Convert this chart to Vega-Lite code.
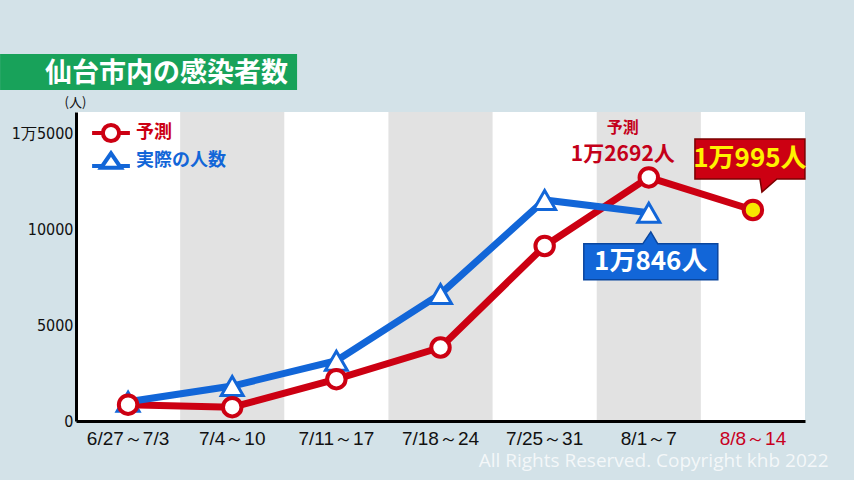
{
  "$schema": "https://vega.github.io/schema/vega-lite/v6.json",
  "width": 729,
  "height": 309,
  "autosize": {"type": "none"},
  "padding": {"left": 76, "top": 112, "right": 49, "bottom": 59},
  "background": "#d3e2e8",
  "title": {
    "text": "仙台市内の感染者数",
    "anchor": "start",
    "frame": "group",
    "dx": -31,
    "dy": 60,
    "offset": 26,
    "fontSize": 27,
    "fontWeight": "bold",
    "color": "white",
    "font": "Noto Sans CJK JP"
  },
  "config": {
    "view": {"stroke": null, "fill": "white"},
    "font": "DejaVu Sans Condensed"
  },
  "datasets": {
    "weeks": [
      {"week": "6/27～7/3"}, {"week": "7/4～10"}, {"week": "7/11～17"}, {"week": "7/18～24"},
      {"week": "7/25～31"}, {"week": "8/1～7"}, {"week": "8/8～14"}
    ],
    "cases": [
      {"week": "6/27～7/3", "series": "予測", "n": 850},
      {"week": "7/4～10", "series": "予測", "n": 720},
      {"week": "7/11～17", "series": "予測", "n": 2180},
      {"week": "7/18～24", "series": "予測", "n": 3830},
      {"week": "7/25～31", "series": "予測", "n": 9120},
      {"week": "8/1～7", "series": "予測", "n": 12692},
      {"week": "8/8～14", "series": "予測", "n": 10995},
      {"week": "6/27～7/3", "series": "実際の人数", "n": 1000},
      {"week": "7/4～10", "series": "実際の人数", "n": 1820},
      {"week": "7/11～17", "series": "実際の人数", "n": 3140},
      {"week": "7/18～24", "series": "実際の人数", "n": 6620},
      {"week": "7/25～31", "series": "実際の人数", "n": 11520},
      {"week": "8/1～7", "series": "実際の人数", "n": 10846}
    ]
  },
  "encoding": {
    "x": {
      "field": "week",
      "type": "nominal",
      "scale": {
        "domain": ["6/27～7/3", "7/4～10", "7/11～17", "7/18～24", "7/25～31", "8/1～7", "8/8～14"],
        "paddingInner": 0,
        "paddingOuter": 0
      },
      "axis": {
        "title": "All Rights Reserved. Copyright khb 2022",
        "titleFont": "Open Sans",
        "titleFontWeight": "normal",
        "titleFontSize": 19,
        "titleColor": "#ffffff",
        "titleOpacity": 0.75,
        "titleAlign": "right",
        "titleBaseline": "middle",
        "titleX": 752,
        "titleY": 39,
        "labelAngle": 0,
        "labelFont": "Liberation Sans",
        "labelFontSize": 19,
        "labelPadding": 8,
        "labelColor": {"condition": {"test": "datum.value === '8/8～14'", "value": "#c8001e"}, "value": "#111111"},
        "ticks": false,
        "domainColor": "#000000",
        "domainWidth": 3,
        "grid": false
      }
    }
  },
  "layer": [
    {
      "data": {"name": "weeks"},
      "transform": [{"filter": "indexof(['7/4～10','7/18～24','8/1～7'], datum.week) >= 0"}],
      "mark": {"type": "rect", "fill": "#e2e2e2"}
    },
    {
      "data": {"name": "cases"},
      "transform": [{"filter": "datum.week === '6/27～7/3' && datum.series === '予測'"}],
      "mark": {"type": "point", "shape": "M-1.28,-0.58H1.69V-0.22H-1.28Z", "size": 40000, "filled": true, "fill": "#18a25a", "opacity": 1, "strokeWidth": 0},
      "encoding": {
        "x": {"datum": "6/27～7/3", "type": "nominal"},
        "y": {"datum": 16100, "type": "quantitative"}
      }
    },
    {
      "data": {"name": "cases"},
      "transform": [{"window": [{"op": "row_number", "as": "idx"}], "groupby": ["series"]}],
      "mark": {"type": "line", "strokeWidth": 7},
      "encoding": {
        "y": {
          "field": "n",
          "type": "quantitative",
          "scale": {"domain": [0, 16100], "nice": false},
          "axis": {
            "title": "(人)",
            "titleAngle": 0,
            "titleX": -1,
            "titleY": -3,
            "titleAlign": "center",
            "titleBaseline": "bottom",
            "titleFontSize": 13,
            "titleFontWeight": "normal",
            "titleFont": "Noto Sans CJK JP",
            "titleColor": "#111111",
            "values": [0, 5000, 10000, 15000],
            "labelExpr": "datum.value == 15000 ? '1万5000' : datum.value",
            "labelFontSize": 16,
            "labelColor": "#111111",
            "labelPadding": 3,
            "ticks": false,
            "domainColor": "#000000",
            "domainWidth": 3,
            "gridColor": "#d6d6d6",
            "gridWidth": 1.2
          }
        },
        "color": {
          "field": "series",
          "type": "nominal",
          "scale": {"domain": ["予測", "実際の人数"], "range": ["#cc0012", "#1266d8"]},
          "legend": {
            "orient": "none",
            "legendX": 24,
            "legendY": 10,
            "title": null,
            "padding": 0,
            "symbolSize": 324,
            "symbolStrokeWidth": 4,
            "symbolFillColor": "white",
            "labelFontSize": 18,
            "labelFont": "Noto Sans CJK JP",
            "labelFontWeight": "bold",
            "labelOffset": 14,
            "rowPadding": -10,
            "encode": {
              "symbols": {"update": {
                "shape": {"signal": "datum.value === '予測' ? 'M-2.1,0H-0.9M0.9,0H2.1M-0.9,0A0.9,0.9,0,1,1,0.9,0A0.9,0.9,0,1,1,-0.9,0Z' : 'M-2.1,0.55H-1.1M1.1,0.55H2.1M-1.1,0.75L0,-0.85L1.1,0.75Z'"},
                "fill": {"value": "white"},
                "strokeWidth": {"value": 4}
              }},
              "labels": {"update": {"fill": {"signal": "datum.value === '予測' ? '#cc0012' : '#1266d8'"}}}
            }
          }
        },
        "order": {"field": "idx", "type": "quantitative"},
        "detail": {"field": "series"}
      }
    },
    {
      "data": {"name": "cases"},
      "transform": [{"filter": "datum.series === '実際の人数'"}],
      "mark": {"type": "point", "shape": "triangle-up", "size": 480, "filled": true, "fill": "white", "stroke": "#1266d8", "strokeWidth": 3, "opacity": 1},
      "encoding": {"y": {"field": "n", "type": "quantitative"}}
    },
    {
      "data": {"name": "cases"},
      "transform": [{"filter": "datum.series === '予測' && datum.week !== '8/8～14'"}],
      "mark": {"type": "point", "shape": "circle", "size": 340, "filled": true, "fill": "white", "stroke": "#cc0012", "strokeWidth": 4, "opacity": 1},
      "encoding": {"y": {"field": "n", "type": "quantitative"}}
    },
    {
      "data": {"name": "cases"},
      "transform": [{"filter": "datum.series === '予測' && datum.week === '8/8～14'"}],
      "mark": {"type": "point", "shape": "circle", "size": 340, "filled": true, "fill": "#f7e600", "stroke": "#cc0012", "strokeWidth": 4, "opacity": 1},
      "encoding": {"y": {"field": "n", "type": "quantitative"}}
    },
    {
      "data": {"name": "cases"},
      "transform": [{"filter": "datum.series === '実際の人数' && datum.week === '8/1～7'"}],
      "mark": {"type": "point", "shape": "M-1.3,0.62H-0.12L0.04,0.38L0.18,0.62H1.38V1.34H-1.3Z", "size": 10000, "filled": true, "fill": "#1266d8", "stroke": "#0a469e", "strokeWidth": 1.5, "opacity": 1},
      "encoding": {"y": {"field": "n", "type": "quantitative"}}
    },
    {
      "data": {"name": "cases"},
      "transform": [{"filter": "datum.series === '予測' && datum.week === '8/8～14'"}],
      "mark": {"type": "point", "shape": "M-1.16,-1.42H1.04V-0.62H0.48L0.18,-0.36L0.14,-0.62H-1.16Z", "size": 10000, "filled": true, "fill": "#cc0012", "stroke": "#7a0000", "strokeWidth": 1.5, "opacity": 1},
      "encoding": {"y": {"field": "n", "type": "quantitative"}}
    },
    {
      "data": {"name": "cases"},
      "transform": [
        {"filter": "datum.week === '8/1～7' || datum.week === '8/8～14'"},
        {"calculate": "floor(datum.n / 10000) + '万' + (datum.n % 10000) + '人'", "as": "label"}
      ],
      "layer": [
        {
          "transform": [{"filter": "datum.series === '予測' && datum.week === '8/1～7'"}],
          "mark": {"type": "text", "dx": -26, "dy": -49, "fontSize": 16, "fontWeight": "bold", "font": "Noto Sans CJK JP", "color": "#c4001a"},
          "encoding": {"y": {"field": "n", "type": "quantitative"}, "text": {"field": "series"}}
        },
        {
          "transform": [{"filter": "datum.series === '予測' && datum.week === '8/1～7'"}],
          "mark": {"type": "text", "dx": -26, "dy": -22, "fontSize": 21, "fontWeight": "bold", "font": "Noto Sans CJK JP", "color": "#c4001a"},
          "encoding": {"y": {"field": "n", "type": "quantitative"}, "text": {"field": "label"}}
        },
        {
          "transform": [{"filter": "datum.series === '実際の人数'"}],
          "mark": {"type": "text", "dx": 2, "dy": 49, "fontSize": 26, "fontWeight": "bold", "font": "Noto Sans CJK JP", "color": "#ffffff"},
          "encoding": {"y": {"field": "n", "type": "quantitative"}, "text": {"field": "label"}}
        },
        {
          "transform": [{"filter": "datum.week === '8/8～14'"}],
          "mark": {"type": "text", "dx": -3, "dy": -51, "fontSize": 26, "fontWeight": "bold", "font": "Noto Sans CJK JP", "color": "#fff200"},
          "encoding": {"y": {"field": "n", "type": "quantitative"}, "text": {"field": "label"}}
        }
      ]
    }
  ]
}
